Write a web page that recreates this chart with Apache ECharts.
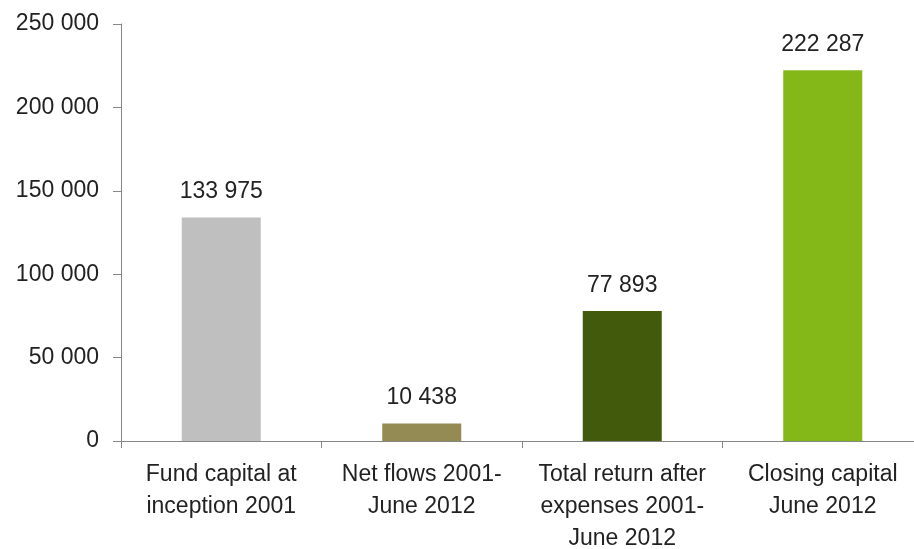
<!DOCTYPE html>
<html>
<head>
<meta charset="utf-8">
<script src="https://cdn.jsdelivr.net/npm/echarts@6/dist/echarts.min.js"></script>
<style>html,body{margin:0;padding:0;background:#fff;overflow:hidden}#c{width:930px;height:549px}</style>
</head>
<body>
<div id="c"></div>
<script>
const categories = ['Fund capital at\ninception 2001', 'Net flows 2001-\nJune 2012', 'Total return after\nexpenses 2001-\nJune 2012', 'Closing capital\nJune 2012'];
const values = [133975, 10438, 77893, 222287];
const barColors = ['#BFBFBF', '#948A54', '#415A0C', '#84B819'];
const yMin = 0, yMax = 250000, yInterval = 50000;

function fmt(v) { return String(v).replace(/\B(?=(\d{3})+(?!\d))/g, ' '); }

const chart = echarts.init(document.getElementById('c'));
const FONT = 'Liberation Sans';
chart.setOption({
  animation: false,
  grid: { left: 121, top: 24, right: 7, bottom: 108, containLabel: false, outerBoundsMode: 'none' },
  xAxis: {
    type: 'category',
    data: categories,
    axisLine: { lineStyle: { color: '#868686', width: 1 } },
    axisTick: { show: true, alignWithLabel: false, length: 7, lineStyle: { color: '#868686' } },
    axisLabel: { color: '#222222', fontFamily: FONT, fontSize: 23, lineHeight: 32, margin: 18, interval: 0 }
  },
  yAxis: {
    type: 'value', min: yMin, max: yMax, interval: yInterval,
    axisLine: { show: true, lineStyle: { color: '#868686', width: 1 } },
    axisTick: { show: true, length: 8, lineStyle: { color: '#868686' } },
    splitLine: { show: false },
    axisLabel: { color: '#222222', fontFamily: FONT, fontSize: 23, margin: 22, formatter: fmt }
  },
  series: [{
    type: 'bar',
    data: values.map((v, i) => ({ value: v, itemStyle: { color: barColors[i] } })),
    barWidth: 79,
    label: { show: true, position: 'top', distance: 14, color: '#222222', fontFamily: FONT, fontSize: 23, formatter: p => fmt(p.value) }
  }]
});
</script>
</body>
</html>
